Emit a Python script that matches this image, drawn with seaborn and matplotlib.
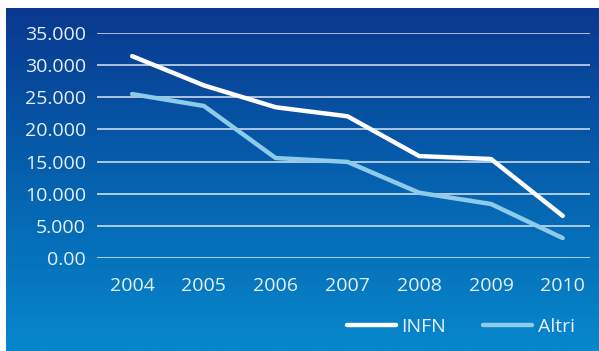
import numpy as np
import pandas as pd
import matplotlib
matplotlib.use("Agg")
import matplotlib.pyplot as plt
import seaborn as sns
from matplotlib.colors import LinearSegmentedColormap

# values
years = ["2004", "2005", "2006", "2007", "2008", "2009", "2010"]
infn = [31400, 26850, 23450, 22050, 15850, 15400, 6550]
altri = [25500, 23650, 15550, 14950, 10150, 8400, 3100]
series_names = ["INFN", "Altri"]
ytick_values = [0, 5000, 10000, 15000, 20000, 25000, 30000, 35000]
ytick_labels = ["0.00", "5.000", "10.000", "15.000", "20.000", "25.000", "30.000", "35.000"]

colors = {"INFN": "#ffffff", "Altri": "#8ecae9"}

df = pd.DataFrame({
    "pos": list(range(len(years))) * 2,
    "value": infn + altri,
    "series": ["INFN"] * len(years) + ["Altri"] * len(years),
})

sns.set_theme(style="white")
plt.rcParams["font.family"] = ["Open Sans", "DejaVu Sans"]

fig = plt.figure(figsize=(5.99, 3.51), dpi=100, facecolor="white")

# blue gradient panel behind the chart
bg = fig.add_axes([6 / 599, 0, 593 / 599, 343 / 351])
grad = np.linspace(0, 1, 256).reshape(-1, 1)
cmap = LinearSegmentedColormap.from_list("bluegrad", ["#0a388f", "#0561ae", "#0787cc"])
bg.imshow(grad, aspect="auto", cmap=cmap, extent=[0, 1, 0, 1])
bg.set_axis_off()

ax = fig.add_axes([97 / 599, (351 - 258) / 351, 493 / 599, 225 / 351])
ax.set_facecolor("none")

for y in ytick_values:
    ax.axhline(y, color="white", lw=1.1, alpha=0.85, zorder=1)

sns.lineplot(data=df, x="pos", y="value", hue="series", hue_order=series_names,
             palette=colors, linewidth=3.2, ax=ax, legend=False, zorder=3)

ax.set_xlim(-0.49, 6.38)
ax.set_ylim(0, 35000)
ax.set_xticks(range(len(years)))
ax.set_xticklabels(years)
ax.set_yticks(ytick_values)
ax.set_yticklabels(ytick_labels)
ax.tick_params(axis="both", length=0, colors="white", labelsize=14)
ax.tick_params(axis="y", pad=8)
ax.tick_params(axis="x", pad=14)
for lab in ax.get_xticklabels() + ax.get_yticklabels():
    lab.set_color("#e8f0fa")
ax.set_xlabel("")
ax.set_ylabel("")
for s in ax.spines.values():
    s.set_visible(False)

handles = [plt.Line2D([], [], color=colors[n], lw=3.2) for n in series_names]
leg = fig.legend(handles, series_names, loc="center left",
                 bbox_to_anchor=(347 / 599, (351 - 327) / 351), ncol=2, frameon=False,
                 fontsize=14, handlelength=2.5, handletextpad=0.3, columnspacing=1.9,
                 borderaxespad=0, borderpad=0)
for t in leg.get_texts():
    t.set_color("#e8f0fa")

fig.savefig("out.png", dpi=100, facecolor="white")
